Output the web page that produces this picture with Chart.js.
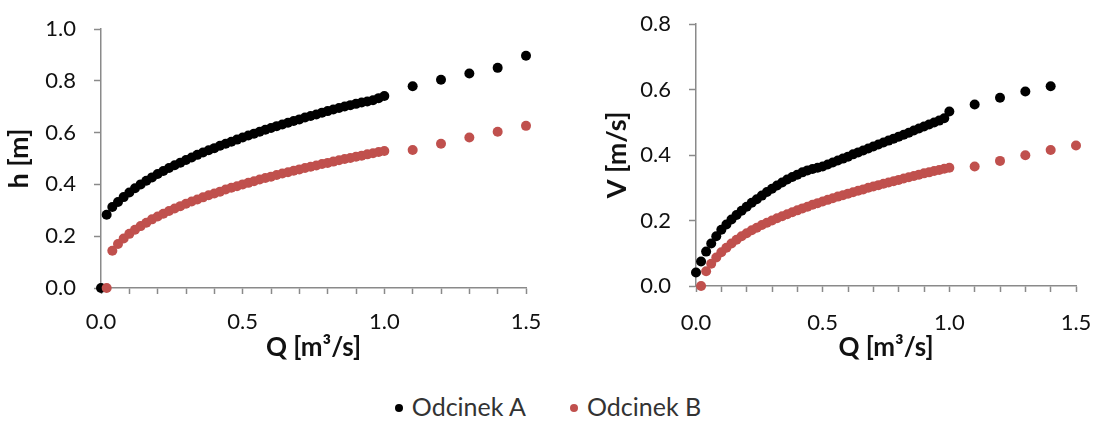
<!DOCTYPE html>
<html>
<head>
<meta charset="utf-8">
<script src="https://cdn.jsdelivr.net/npm/chart.js@4.4.1/dist/chart.umd.min.js"></script>
<style>
  html, body { margin: 0; padding: 0; background: #fff; }
  #wrap { position: relative; width: 1096px; height: 422px; overflow: hidden; }
  #chartH { position: absolute; left: 0; top: 0; }
  #chartV { position: absolute; left: 548px; top: 0; }
  #legend { position: absolute; left: 0; top: 390px; width: 1096px; text-align: center;
            font-family: Lato, sans-serif; font-size: 25px; color: #333; line-height: 32px; }
  #legend .item { display: inline-block; margin: 0 22px; }
  #legend .dot { display: inline-block; width: 8px; height: 8px; border-radius: 50%;
                 margin-right: 9px; vertical-align: middle; position: relative; top: -2px; }
</style>
</head>
<body>
<div id="wrap">
  <canvas id="chartH" width="548" height="380"></canvas>
  <canvas id="chartV" width="548" height="380"></canvas>
  <div id="legend"></div>
</div>
<script>
// series names and colours
const seriesNames = ['Odcinek A', 'Odcinek B'];
const seriesColors = ['#000000', '#C0504D'];

// Q [m3/s] for each series
const qA = [0, 0.02, 0.04, 0.06, 0.08, 0.10, 0.12, 0.14, 0.16, 0.18, 0.20, 0.22, 0.24, 0.26, 0.28,
  0.30, 0.32, 0.34, 0.36, 0.38, 0.40, 0.42, 0.44, 0.46, 0.48, 0.50, 0.52, 0.54, 0.56, 0.58,
  0.60, 0.62, 0.64, 0.66, 0.68, 0.70, 0.72, 0.74, 0.76, 0.78, 0.80, 0.82, 0.84, 0.86, 0.88,
  0.90, 0.92, 0.94, 0.96, 0.98, 1.00, 1.1, 1.2, 1.3, 1.4, 1.5];
const qB = [0.02, 0.04, 0.06, 0.08, 0.10, 0.12, 0.14, 0.16, 0.18, 0.20, 0.22, 0.24, 0.26, 0.28,
  0.30, 0.32, 0.34, 0.36, 0.38, 0.40, 0.42, 0.44, 0.46, 0.48, 0.50, 0.52, 0.54, 0.56, 0.58,
  0.60, 0.62, 0.64, 0.66, 0.68, 0.70, 0.72, 0.74, 0.76, 0.78, 0.80, 0.82, 0.84, 0.86, 0.88,
  0.90, 0.92, 0.94, 0.96, 0.98, 1.00, 1.1, 1.2, 1.3, 1.4, 1.5];

// h [m]
const hA = [0, 0.283, 0.313, 0.332, 0.351, 0.369, 0.385, 0.400, 0.414, 0.427, 0.440, 0.452, 0.463, 0.474, 0.484,
  0.494, 0.504, 0.514, 0.523, 0.532, 0.540, 0.549, 0.557, 0.565, 0.573, 0.581, 0.589, 0.596, 0.603, 0.611,
  0.618, 0.625, 0.631, 0.638, 0.645, 0.651, 0.658, 0.664, 0.670, 0.677, 0.683, 0.689, 0.695, 0.701, 0.706,
  0.711, 0.716, 0.720, 0.725, 0.733, 0.741, 0.779, 0.804, 0.828, 0.850, 0.897];
const hB = [0, 0.144, 0.170, 0.191, 0.209, 0.225, 0.239, 0.252, 0.265, 0.276, 0.287, 0.297, 0.307, 0.316,
  0.325, 0.334, 0.342, 0.350, 0.358, 0.365, 0.372, 0.380, 0.387, 0.393, 0.400, 0.406, 0.412, 0.419, 0.425,
  0.430, 0.436, 0.442, 0.447, 0.453, 0.458, 0.463, 0.468, 0.473, 0.479, 0.483, 0.488, 0.493, 0.498, 0.502,
  0.507, 0.511, 0.516, 0.520, 0.525, 0.529, 0.533, 0.557, 0.581, 0.603, 0.626];

// V [m/s]  (series A has no point at Q = 1.5)
const vA = [0.041, 0.075, 0.105, 0.130, 0.152, 0.172, 0.188, 0.203, 0.217, 0.230, 0.242, 0.254, 0.265, 0.276, 0.287,
  0.297, 0.307, 0.316, 0.325, 0.333, 0.340, 0.347, 0.353, 0.357, 0.361, 0.365, 0.371, 0.377, 0.383, 0.389,
  0.395, 0.402, 0.408, 0.414, 0.420, 0.426, 0.432, 0.438, 0.444, 0.450, 0.456, 0.462, 0.468, 0.475, 0.481,
  0.487, 0.493, 0.499, 0.505, 0.512, 0.533, 0.554, 0.575, 0.594, 0.610];
const vB = [0, 0.045, 0.068, 0.087, 0.103, 0.117, 0.130, 0.141, 0.152, 0.161, 0.170, 0.178, 0.186, 0.193,
  0.200, 0.207, 0.213, 0.219, 0.225, 0.231, 0.237, 0.242, 0.248, 0.253, 0.258, 0.263, 0.268, 0.273, 0.277,
  0.282, 0.286, 0.291, 0.295, 0.300, 0.304, 0.308, 0.312, 0.316, 0.320, 0.324, 0.328, 0.332, 0.336, 0.340,
  0.344, 0.347, 0.351, 0.354, 0.358, 0.361, 0.365, 0.382, 0.399, 0.415, 0.429];

const xTitle = 'Q [m³/s]';
const xTickLabels = ['0.0', '0.5', '1.0', '1.5'];

Chart.defaults.font.family = 'Lato, sans-serif';
Chart.defaults.color = '#111';

const axisGrey = '#8a8a8a';

function pairs(xs, ys) {
  return ys.map((y, i) => ({ x: xs[i], y: y }));
}

function makeChart(id, yTitle, yMax, dataA, dataB, g) {
  const ctx = document.getElementById(id).getContext('2d');
  const ds = (name, color, data, order) => ({
    label: name,
    data: data,
    backgroundColor: color,
    borderColor: color,
    pointRadius: 5,
    pointBorderWidth: 0,
    pointHoverRadius: 5,
    clip: false,
    order: order
  });
  return new Chart(ctx, {
    type: 'scatter',
    data: {
      datasets: [
        ds(seriesNames[0], seriesColors[0], dataA, 1),
        ds(seriesNames[1], seriesColors[1], dataB, 0)
      ]
    },
    options: {
      responsive: false,
      animation: false,
      layout: { padding: { left: g.left, right: g.right, top: g.top, bottom: 0 } },
      plugins: { legend: { display: false }, tooltip: { enabled: false } },
      scales: {
        x: {
          type: 'linear',
          min: 0, max: 1.5,
          // fixed box so the plot area matches the picture
          afterFit: (s) => { s.height = g.xHeight; s.paddingLeft = 10; s.paddingRight = 10; },
          border: { color: axisGrey, width: 1.5 },
          grid: { drawOnChartArea: false, drawTicks: true, tickLength: 6, tickColor: axisGrey, tickWidth: 1.5 },
          ticks: {
            stepSize: 0.1,
            autoSkip: false,
            maxRotation: 0,
            padding: g.xPad,
            font: { size: 22 },
            color: '#111',
            callback: (v) => {
              const lbl = v.toFixed(1);
              return xTickLabels.includes(lbl) ? lbl : '';
            }
          },
          title: {
            display: true, text: xTitle, color: '#111',
            font: { size: 26, weight: 'bold' },
            padding: { top: 0, bottom: 17 }
          }
        },
        y: {
          type: 'linear',
          min: 0, max: yMax,
          afterFit: (s) => { s.width = 101; s.paddingTop = 5; s.paddingBottom = 5; },
          border: { color: axisGrey, width: 1.5 },
          grid: { drawOnChartArea: false, drawTicks: true, tickLength: 7, tickColor: axisGrey, tickWidth: 1.5 },
          ticks: {
            stepSize: 0.2,
            padding: 18,
            font: { size: 22 },
            color: '#111',
            callback: (v) => v.toFixed(1)
          },
          title: {
            display: true, text: yTitle, color: '#111',
            font: { size: 27, weight: 'bold' },
            padding: { top: g.yTitlePad, bottom: 0 }
          }
        }
      }
    }
  });
}

makeChart('chartH', 'h [m]', 1.0, pairs(qA, hA), pairs(qB, hB),
  { left: 0, right: 22, top: 29, xHeight: 92, xPad: 15, yTitlePad: 3 });
makeChart('chartV', 'V [m/s]', 0.8, pairs(qA, vA), pairs(qB, vB),
  { left: 47, right: 20, top: 24, xHeight: 94, xPad: 18, yTitlePad: 6 });

// legend
const legend = document.getElementById('legend');
seriesNames.forEach((name, i) => {
  const item = document.createElement('span');
  item.className = 'item';
  const dot = document.createElement('span');
  dot.className = 'dot';
  dot.style.background = seriesColors[i];
  item.appendChild(dot);
  item.appendChild(document.createTextNode(name));
  legend.appendChild(item);
});
</script>
</body>
</html>
